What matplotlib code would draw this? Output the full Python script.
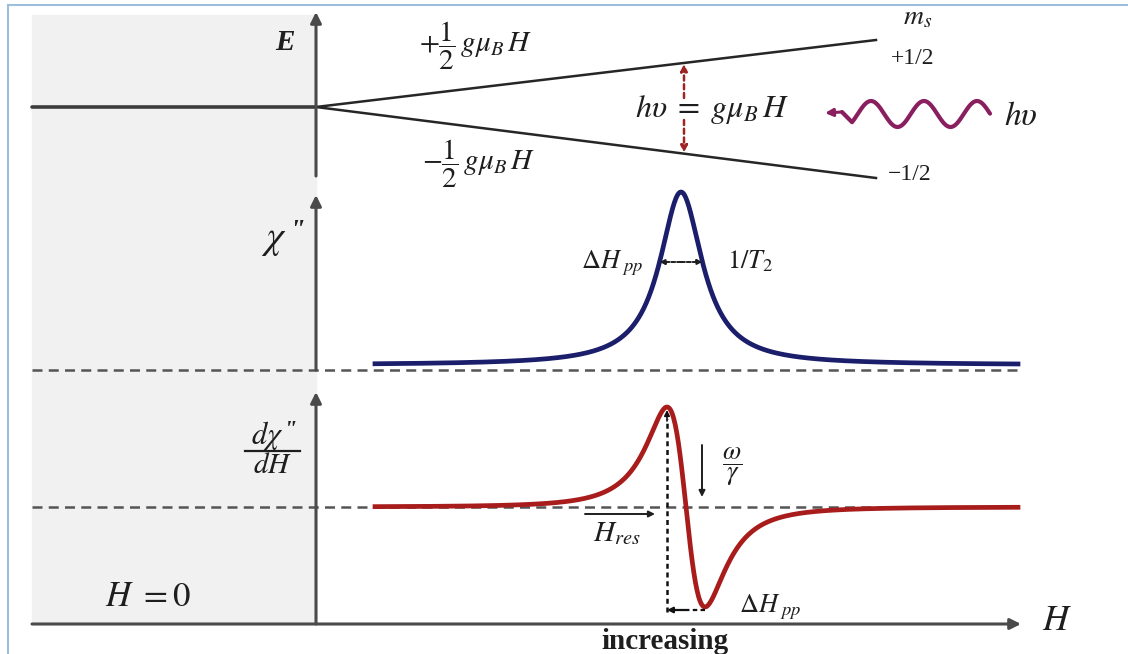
import matplotlib
matplotlib.use("Agg")
import matplotlib.pyplot as plt
from matplotlib.patches import Rectangle
import numpy as np

plt.rcParams['mathtext.fontset'] = 'stix'
plt.rcParams['font.family'] = ['Liberation Serif', 'DejaVu Serif']

# layout of the sketch (pixel units, y grows downward)
W, HGT = 1128, 654
X_ZERO = 316          # H = 0 axis
X_LEFT = 32
X_END = 1018

# zeeman splitting
Y_LEVEL = 107
level_ends = [40, 178]        # +1/2 and -1/2 level heights at x_end
X_LEVEL_END = 876
X_TRANSITION = 684

# absorption line (chi'') - lorentzian parameters
ABS_BASE = 365
ABS_DASH = 370
ABS_CENTER = 681
ABS_WIDTH = 26
ABS_HEIGHT = 173

# first derivative line (dchi''/dH)
DER_BASE = 507
DER_CENTER = 686
DER_HPP = 38                  # peak-to-peak width
DER_HEIGHT = 100

AXIS_Y = 624
axis_color = '#4a4a4a'
txt = '#1e1e1e'
blue = '#1b1e6b'
red = '#a81c1c'
darkred = '#9e2424'
purple = '#8a1f5f'

fig = plt.figure(figsize=(W / 100, HGT / 100), dpi=100)
ax = fig.add_axes([0, 0, 1, 1])
ax.set_xlim(0, W)
ax.set_ylim(HGT, 0)
ax.axis('off')

# frame and shaded zero-field region
ax.plot([8, W], [5, 5], color='#9dbfdd', lw=1.5)
ax.plot([8, 8], [5, HGT], color='#9dbfdd', lw=1.5)
ax.add_patch(Rectangle((X_LEFT, 15), X_ZERO - X_LEFT, 607, color='#f1f1f1', zorder=0))


def arrow(x0, y0, x1, y1, color=axis_color, lw=2.2, style='-|>', ms=16, ls='-'):
    ax.annotate('', xy=(x1, y1), xytext=(x0, y0),
                arrowprops=dict(arrowstyle=style, color=color, lw=lw,
                                mutation_scale=ms, linestyle=ls,
                                shrinkA=0, shrinkB=0))


def dprime(x, y, size):
    # the heavy double-prime used on chi
    ax.text(x, y, '"', fontsize=size, fontweight='bold', fontstyle='italic',
            ha='left', va='center', color=txt)


# --- energy levels ---
arrow(X_ZERO, 176, X_ZERO, 12)
ax.plot([X_LEFT, X_ZERO], [Y_LEVEL, Y_LEVEL], color='#3c3c3c', lw=2.6, solid_capstyle='round')
for y_end in level_ends:
    ax.plot([X_ZERO, X_LEVEL_END], [Y_LEVEL, y_end], color='#262626', lw=1.8)

slope_up = (level_ends[0] - Y_LEVEL) / (X_LEVEL_END - X_ZERO)
slope_dn = (level_ends[1] - Y_LEVEL) / (X_LEVEL_END - X_ZERO)
y_up = Y_LEVEL + slope_up * (X_TRANSITION - X_ZERO)
y_dn = Y_LEVEL + slope_dn * (X_TRANSITION - X_ZERO)
arrow(X_TRANSITION, 98, X_TRANSITION, y_up + 1, color=darkred, lw=1.8, ms=10, ls=(0, (2, 1.5)))
arrow(X_TRANSITION, 120, X_TRANSITION, y_dn - 1, color=darkred, lw=1.8, ms=10, ls=(0, (2, 1.5)))

ax.text(285, 42, 'E', fontsize=21, fontweight='bold', fontstyle='italic',
        ha='center', va='center', color=txt)
ax.text(476, 46, r'$+\dfrac{1}{2}\,g\mu_B\,H$', fontsize=21, ha='center', va='center', color=txt)
ax.text(479, 164, r'$-\dfrac{1}{2}\,g\mu_B\,H$', fontsize=21, ha='center', va='center', color=txt)
ax.text(712, 110, r'$h\upsilon\;=\;g\mu_B\,H$', fontsize=23, ha='center', va='center', color=txt)
ax.text(918, 18, r'$m_s$', fontsize=20, ha='center', va='center', color=txt)
ax.text(913, 58, '+1/2', fontsize=17, ha='center', va='center', color=txt)
ax.text(910, 175, '\u22121/2', fontsize=17, ha='center', va='center', color=txt)
ax.text(1021, 117, r'$h\upsilon$', fontsize=24, ha='center', va='center', color=txt)

# incoming photon
wx = np.linspace(990, 852, 200)
wy = 114 - 13 * np.cos(2 * np.pi * (wx - 977) / 53)
wx = np.append(wx, [846, 842])
wy = np.append(wy, [116, 112])
ax.plot(wx, wy, color=purple, lw=3.0, solid_capstyle='round')
arrow(842, 112, 825, 113, color=purple, lw=2.2, ms=11)

# --- absorption ---
arrow(X_ZERO, 370, X_ZERO, 195)
ax.plot([X_LEFT, 1020], [ABS_DASH, ABS_DASH], color='#555', lw=1.8, ls=(0, (4, 2.5)))
field = np.linspace(375, X_END, 800)
chi2 = ABS_BASE - ABS_HEIGHT / (1 + ((field - ABS_CENTER) / ABS_WIDTH) ** 2)
ax.plot(field, chi2, color=blue, lw=3.4)

half_y = 262
u_half = np.sqrt(ABS_HEIGHT / (ABS_BASE - half_y) - 1)
arrow(ABS_CENTER, half_y, ABS_CENTER - u_half * ABS_WIDTH, half_y, color=txt, lw=1.4, ms=7, ls=(0, (2, 1)))
arrow(ABS_CENTER, half_y, ABS_CENTER + u_half * ABS_WIDTH, half_y, color=txt, lw=1.4, ms=7, ls=(0, (2, 1)))
ax.text(287, 240, r'$\chi$', fontsize=28, ha='right', va='center', color=txt)
dprime(289, 231, 20)
ax.text(612, 263, r'$\Delta H_{\ pp}$', fontsize=19, ha='center', va='center', color=txt)
ax.text(750, 261, r'$1/T_2$', fontsize=19, ha='center', va='center', color=txt)

# --- derivative ---
arrow(X_ZERO, AXIS_Y, X_ZERO, 392)
ax.plot([X_LEFT, 1020], [DER_BASE, DER_BASE], color='#555', lw=1.8, ls=(0, (4, 2.5)))
w_der = DER_HPP / 2 * np.sqrt(3)
u = (field - DER_CENTER) / w_der
peak = 2 / np.sqrt(3) / (4 / 3) ** 2
dchi = DER_BASE + DER_HEIGHT * (2 * u / (1 + u ** 2) ** 2) / peak
ax.plot(field, dchi, color=red, lw=3.4)

x_max = DER_CENTER - DER_HPP / 2
x_min = DER_CENTER + DER_HPP / 2
ax.plot([x_max, x_max], [DER_BASE + DER_HEIGHT + 5, DER_BASE - DER_HEIGHT + 12],
        color='#111', lw=1.8, ls=(0, (2, 1.5)))
arrow(x_max, DER_BASE - DER_HEIGHT + 14, x_max, DER_BASE - DER_HEIGHT + 3, color='#111', lw=1.2, ms=8)
arrow(x_max + 18, 610, x_max, 610, color='#111', lw=1.6, ms=8)
ax.plot([x_max + 18, x_min], [610, 610], color='#111', lw=1.6, ls=(0, (2, 1.5)))

arrow(702, 445, 702, 497, color=txt, lw=1.4, ms=9)
arrow(585, 514, 655, 514, color=txt, lw=1.4, ms=9)

# d chi'' / dH as a stacked fraction
ax.text(283, 436, r'$d\chi$', fontsize=22, ha='right', va='center', color=txt)
dprime(284, 430, 17)
ax.plot([245, 300], [451, 451], color=txt, lw=1.6)
ax.text(272, 466, r'$dH$', fontsize=21, ha='center', va='center', color=txt)

ax.text(732, 467, r'$\dfrac{\omega}{\gamma}$', fontsize=19, ha='center', va='center', color=txt)
ax.text(617, 534, r'$H_{res}$', fontsize=21, ha='center', va='center', color=txt)
ax.text(770, 607, r'$\Delta H_{\ pp}$', fontsize=19, ha='center', va='center', color=txt)

# field axis
arrow(X_LEFT, AXIS_Y, 1021, AXIS_Y)
ax.text(1057, 622, r'$H$', fontsize=26, ha='center', va='center', color=txt)
ax.text(148, 597, r'$H\ =0$', fontsize=25, ha='center', va='center', color=txt)
ax.text(665, 649, 'increasing', fontsize=21, fontweight='bold', ha='center', va='baseline', color=txt)

fig.savefig('out.png', dpi=100)
